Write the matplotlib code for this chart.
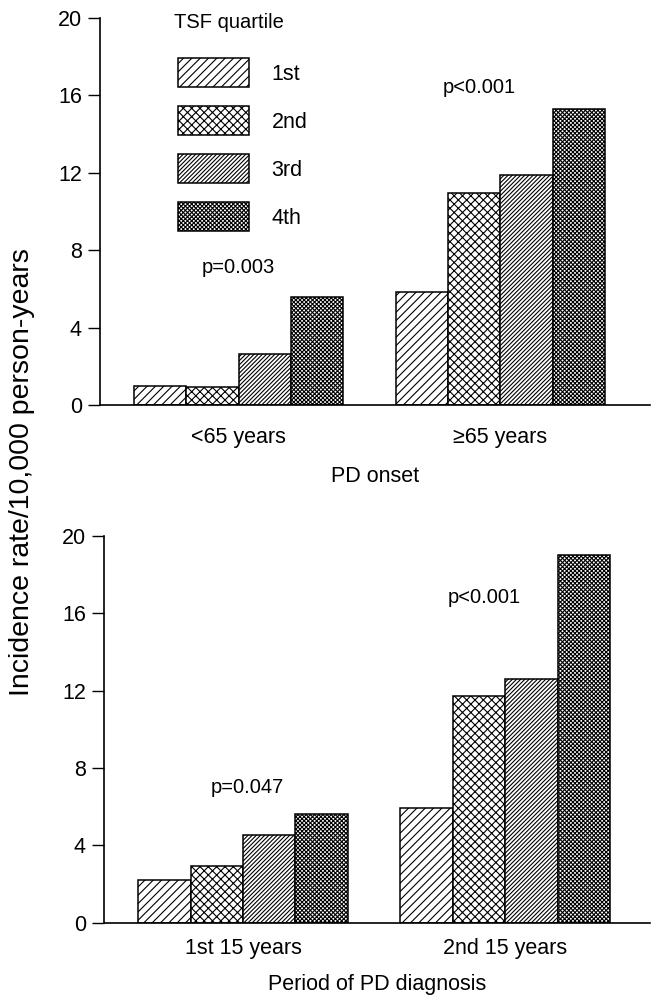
import numpy as np
import matplotlib.pyplot as plt

# -------------------------------------------------------------------
# data
# -------------------------------------------------------------------
quartiles = ["1st", "2nd", "3rd", "4th"]
hatches = ["////", "xxxx", "////////", "xxxxxxxx"]

onset_groups = ["<65 years", "\u226565 years"]
onset_rates = [[1.0, 0.95, 2.65, 5.6],      # <65 years
               [5.85, 10.95, 11.9, 15.3]]   # >=65 years
onset_pvals = ["p=0.003", "p<0.001"]

period_groups = ["1st 15 years", "2nd 15 years"]
period_rates = [[2.2, 2.95, 4.55, 5.6],
                [5.95, 11.75, 12.6, 19.0]]
period_pvals = ["p=0.047", "p<0.001"]

yticks = [0, 4, 8, 12, 16, 20]

plt.rcParams['font.family'] = ['Liberation Sans', 'DejaVu Sans']
plt.rcParams['hatch.linewidth'] = 0.8

fig = plt.figure(figsize=(6.55, 10.01), dpi=100)
ax_top = fig.add_axes([0.1527, 0.5954, 0.8397, 0.3866])
ax_bot = fig.add_axes([0.1588, 0.0782, 0.8336, 0.3863])

width = 0.2
offsets = (np.arange(4) - 1.5) * width


def draw_panel(ax, groups, rates, pvals, p_pos, xlabel, xlim, tickpad, labpad):
    rates = np.array(rates)
    x = np.arange(len(groups))
    for q in range(4):
        ax.bar(x + offsets[q], rates[:, q], width, color='white', edgecolor='black',
               linewidth=1.1, hatch=hatches[q], label=quartiles[q])
    for txt, (px, py) in zip(pvals, p_pos):
        ax.text(px, py, txt, ha='center', va='center', fontsize=14.5)
    ax.set_xlim(*xlim)
    ax.set_ylim(0, 20)
    ax.set_yticks(yticks)
    ax.set_xticks(x)
    ax.set_xticklabels(groups, fontsize=15.5)
    ax.tick_params(axis='x', length=0, pad=tickpad)
    ax.tick_params(axis='y', length=9, width=1.0, labelsize=15.5, pad=4)
    ax.set_xlabel(xlabel, fontsize=15.5, labelpad=labpad)
    for s in ['top', 'right']:
        ax.spines[s].set_visible(False)
    for s in ['left', 'bottom']:
        ax.spines[s].set_linewidth(1.2)


draw_panel(ax_top, onset_groups, onset_rates, onset_pvals,
           [(0.0, 7.1), (0.92, 16.4)], "PD onset", (-0.529, 1.571), 16, 13)
draw_panel(ax_bot, period_groups, period_rates, period_pvals,
           [(0.017, 7.0), (0.92, 16.8)], "Period of PD diagnosis", (-0.5305, 1.553), 11, 11)

# legend in the top panel
ax_top.text(174 / 655, 1 - 22 / 1001, "TSF quartile", transform=fig.transFigure,
            fontsize=14.5, ha='left', va='center')
ax_top.legend(loc='upper left', bbox_to_anchor=(178 / 655, 1 - 58 / 1001),
              bbox_transform=fig.transFigure, frameon=False, fontsize=15.5,
              handlelength=3.3, handleheight=1.7, labelspacing=0.88,
              handletextpad=1.05, borderpad=0, borderaxespad=0)

fig.text(22 / 655, 1 - 472 / 1001, "Incidence rate/10,000 person-years",
         rotation=90, ha='center', va='center', fontsize=20.5)

fig.savefig("out.png", dpi=100)
